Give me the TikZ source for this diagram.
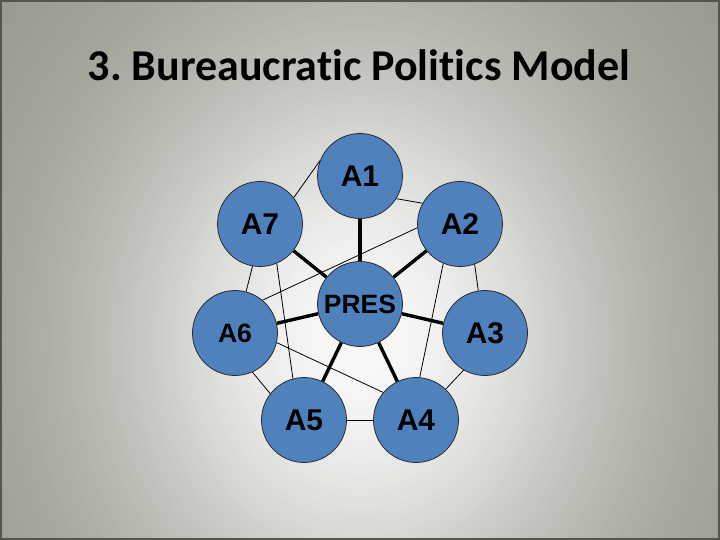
\documentclass[tikz,border=0pt]{standalone}
\usepackage{fontspec}
\setmainfont{Liberation Sans}
\newfontfamily\titlefont[Ligatures=NoCommon]{Carlito}
\usetikzlibrary{backgrounds}
\definecolor{nodeblue}{HTML}{4F81BD}
\definecolor{framecol}{HTML}{55554D}
\tikzset{
  actor/.style={circle, draw=black!85, line width=0.75pt, fill=nodeblue, minimum size=85pt, inner sep=0pt, font=\bfseries\fontsize{30}{30}\selectfont},
  small actor/.style={actor, font=\bfseries\fontsize{26.5}{26.5}\selectfont},
  strong/.style={line width=3.4pt, black},
  weak/.style={line width=0.8pt, black}
}
\begin{document}
\begin{tikzpicture}[x=1pt,y=-1pt]
\useasboundingbox (0,0) rectangle (720,540);
\node[anchor=base, font=\titlefont\bfseries\fontsize{44}{44}\selectfont] (title) at (359,81) {3.\ Bureaucratic Politics Model};
\node[actor] (A1) at (360,176) {A1};
\node[actor] (A7) at (260,224) {A7};
\node[actor] (A2) at (460,224) {A2};
\node[small actor] (PRES) at (360,304) {PRES};
\node[small actor] (A6) at (235,333) {A6};
\node[actor] (A3) at (485,333) {A3};
\node[actor] (A5) at (304,420) {A5};
\node[actor] (A4) at (416,420) {A4};
\begin{scope}[on background layer]
\begin{scope}
\clip (0,0) rectangle (720,540);
\foreach \i in {0,...,89}{
  \pgfmathsetmacro\rr{1.45*(1-\i/90)}
  \pgfmathtruncatemacro\gv{150+99*exp(0-((\rr/0.75)*(\rr/0.75)))}
  \pgfmathtruncatemacro\bv{\gv-0.1*(249-\gv)}
  \definecolor{shadecol}{RGB}{\gv,\gv,\bv}
  \fill[shadecol] (360,340) ellipse [x radius={\rr*360pt}, y radius={\rr*420pt}];
}
\end{scope}
\draw[framecol, line width=2pt] (1,1) rectangle (719,539);
% outer ring
\draw[weak] (A1.159) -- (A7.38);
\draw[weak] (A1.-32) -- (A2.151);
\draw[weak] (A7.-100) -- (A6.75);
\draw[weak] (A2.-70) -- (A3.99);
\draw[weak] (A6.-66) -- (A5.142);
\draw[weak] (A3.-120) -- (A4.46);
\draw[weak] (A5) -- (A4);
% diagonals
\draw[weak] (A7.-67) -- (A5.105);
\draw[weak] (A2.-113) -- (A4.85);
\draw[weak] (A6.50) -- (A2.185);
\draw[weak] (A6.-13) -- (A4.140);
% spokes
\foreach \n in {A1,A2,A3,A4,A5,A6,A7} \draw[strong] (PRES) -- (\n);
\end{scope}
\end{tikzpicture}
\end{document}
